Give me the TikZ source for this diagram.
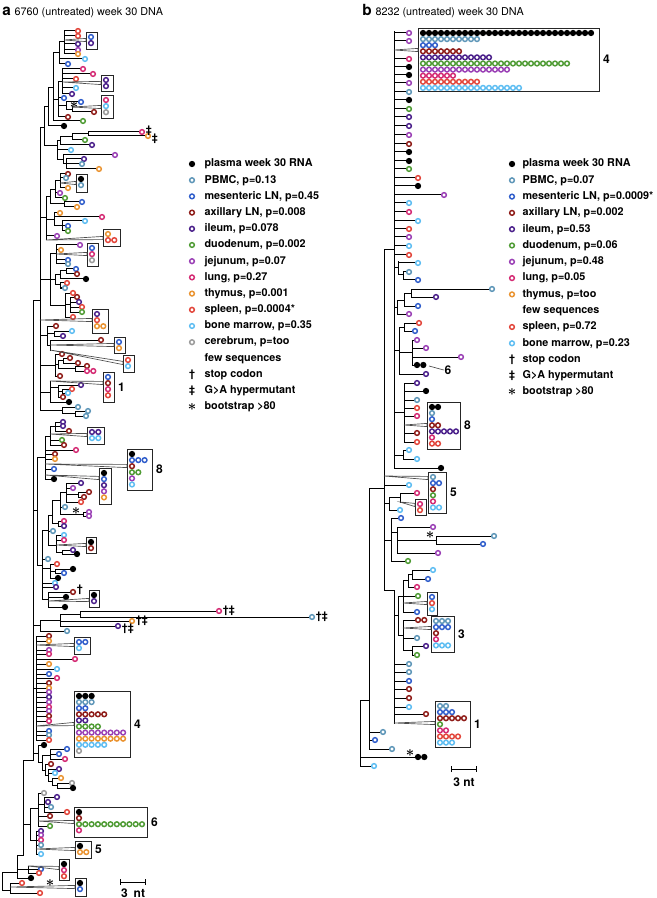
\documentclass[tikz,border=0pt]{standalone}
\usepackage{fontspec}
\setmainfont{TeX Gyre Heros}
\usetikzlibrary{fit,positioning,arrows.meta}

\definecolor{cpl}{HTML}{000000}
\definecolor{cpb}{HTML}{5E96B8}
\definecolor{cml}{HTML}{2F5DCB}
\definecolor{cax}{HTML}{8E1B17}
\definecolor{cil}{HTML}{4A1F8A}
\definecolor{cdu}{HTML}{4E9B33}
\definecolor{cje}{HTML}{9A3FB5}
\definecolor{clu}{HTML}{D42A73}
\definecolor{cth}{HTML}{EA9330}
\definecolor{csp}{HTML}{E2453A}
\definecolor{cbm}{HTML}{5DBDF2}
\definecolor{cce}{HTML}{9B9B9B}
\colorlet{fpl}{black}
\colorlet{fpb}{white}\colorlet{fml}{white}\colorlet{fax}{white}
\colorlet{fil}{white}\colorlet{fdu}{white}\colorlet{fje}{white}
\colorlet{flu}{white}\colorlet{fth}{white}\colorlet{fsp}{white}
\colorlet{fbm}{white}\colorlet{fce}{white}

% spacing of the circles inside a collapsed clade
\newcommand{\csx}{6.3}
\newcommand{\csy}{6.1}
% collapsed clade: name, x1, y1, x2, y2, rows, parent x, parent y, wedge y
\newcommand{\clade}[9]{%
  \node[clbox, fit={(#2,#3) (#4,#5)}] (#1) {};
  \coordinate (#1-w) at (#2,#9);
  \foreach \cl/\nn [count=\rw] in {#6} {
    \foreach \kk in {1,...,\nn} {
      \node[tip=\cl] (#1-\rw-\kk) at (#2+5+\csx*\kk-\csx, #3+5+\csy*\rw-\csy) {};
    }
  }
  \draw[wedge] (#7,#8) -- ([yshift=1.2pt]#1-w) -- ([yshift=-1.2pt]#1-w) -- cycle;
}

\begin{document}
\begin{tikzpicture}[x=0.75pt, y=-0.75pt,
    br/.style={line width=0.75pt, line cap=rect},
    tip/.style={circle, inner sep=0pt, minimum size=3.55pt, line width=1.1pt, draw=c#1, fill=f#1},
    clbox/.style={draw=black!85, line width=0.6pt, inner sep=0pt},
    wedge/.style={draw=black!70, line width=0.5pt},
    ttl/.style={inner sep=0pt, font=\fontsize{8.1}{9}\selectfont},
    ttlb/.style={inner sep=0pt, font=\bfseries\fontsize{11.5}{12}\selectfont},
    lg/.style={anchor=west, inner sep=1pt, font=\bfseries\fontsize{8.1}{9}\selectfont},
    mk/.style={inner sep=0.5pt, font=\bfseries\fontsize{8}{8}\selectfont},
    bstar/.style={inner sep=0pt, font=\boldmath\fontsize{11}{11}\selectfont},
    lab/.style={inner sep=0.5pt, font=\bfseries\fontsize{9}{10}\selectfont},
  ]
\useasboundingbox (0,0) rectangle (656,898);

% ---------------- panel a ----------------
\node[ttlb, anchor=base west] (ta) at (2,16) {a};
\node[ttl, anchor=base west] (tat) at ([xshift=2.5pt]ta.base east) {6760 (untreated) week 30 DNA};

% vertical branches
\foreach \x/\ya/\yb in {64/31/54, 59/42/64, 53/53/121, 62/69/94, 58/82/117, 66/102/110,
    72/107/112, 48/88/126, 88/132/136, 72/134/140, 60/137/145, 63/155/164, 66/159/169,
    57/141/160, 44/107/146, 60/174/188, 55/181/198, 50/190/204, 64/202/207, 62/221/231,
    54/213/226, 46/197/240, 56/245/264, 66/269/274, 60/271/279, 60/283/288, 55/275/285,
    70/297/312, 65/293/317, 50/254/305, 54/331/336, 47/326/345, 50/340/350, 63/358/363,
    75/366/371, 58/360/368, 55/354/376, 62/389/393, 58/385/397, 50/381/402, 75/411/416,
    62/407/413, 40/128/410, 55/422/431, 50/426/445, 45/436/479, 78/492/497, 66/483/502,
    83/512/516, 60/492/514, 58/521/526, 52/500/523, 62/550/554, 56/535/552, 48/515/545,
    55/569/573, 50/564/578, 48/592/607, 42/530/599, 37/457/565, 80/611/617, 60/614/626,
    40/620/631, 36/636/740, 50/749/759, 57/783/788, 52/778/785, 48/769/781, 45/764/775,
    42/755/770, 38/745/762, 44/797/812, 38/793/826, 36/831/854, 30/808/840, 28/866/873,
    17/855/878, 10/883/893, 2/872/890, 23/760/855, 33/300/760}
  \draw[br] (\x,\ya) -- (\x,\yb);

% horizontal inner branches
\foreach \xa/\xb/\y in {59/64/42, 53/59/53, 58/62/82, 53/58/100, 58/66/106, 66/72/110,
    48/53/88, 44/48/107, 72/88/134, 60/72/137, 57/60/141, 63/66/164, 57/63/160, 44/57/146,
    40/44/128, 55/60/181, 50/55/190, 50/64/204, 46/50/197, 54/62/226, 46/54/220, 40/46/218,
    50/56/254, 60/66/271, 55/60/275, 55/60/285, 50/55/280, 65/70/304, 50/65/305, 40/50/280,
    47/54/333, 47/50/345, 40/47/335, 58/63/360, 58/75/368, 55/58/364, 40/55/365,
    50/58/387, 58/62/391, 40/50/392, 62/75/413, 40/62/410, 50/55/426, 45/50/436, 37/45/457,
    66/78/494, 60/66/492, 60/83/514, 52/60/500, 52/58/523, 48/52/515, 56/62/552, 48/56/545,
    42/48/530, 50/55/571, 42/50/568, 42/48/599, 37/42/565, 33/37/510, 60/80/614, 40/60/620,
    33/40/625, 33/36/688, 42/50/755, 52/57/785, 48/52/781, 45/48/775, 42/45/770, 38/42/762,
    33/38/753, 38/44/804, 30/38/808, 30/36/840, 23/30/824, 17/28/869, 17/23/855, 2/17/872,
    2/10/890, 23/33/760, 33/40/300}
  \draw[br] (\xa,\y) -- (\xb,\y);

% sequences
\foreach \px/\x/\y/\cl [count=\ti] in {
    64/78/31/sp, 64/78/36/sp, 64/78/44/il, 64/78/50/je, 64/78/54/th,
    59/85/59/bm, 59/68/64/ml, 62/83/69/lu, 62/93/74/lu, 62/76/79/sp,
    62/76/88/bm, 62/72/94/il, 58/64/98/ml, 66/81/102/ml, 72/94/112/ax,
    58/68/117/ax, 53/83/121/du, 48/64/126/pl, 88/142/132/lu, 88/148/136/th,
    72/85/140/du, 60/92/145/il, 57/71/150/bm, 63/115/155/je, 66/84/159/il,
    66/82/164/pb, 66/99/169/th,
    60/68/174/ax, 60/66/178/pb, 60/68/188/th, 55/60/193/je, 55/65/198/du,
    64/82/202/ml, 64/77/207/th, 54/60/213/th, 54/102/217/lu, 62/85/221/bm,
    62/68/226/ml, 62/68/231/du, 46/57/236/je,
    56/80/245/je, 56/61/250/th, 56/68/260/ml, 56/68/264/pb, 66/76/269/ml,
    66/77/274/ax, 60/86/279/pl, 60/67/283/sp, 60/65/288/pb, 65/73/293/sp,
    70/77/297/ax, 70/79/302/il, 70/82/307/sp, 70/82/312/du, 65/73/317/sp,
    47/56/326/ax, 54/72/331/bm, 54/63/336/il, 50/101/340/ax,
    55/62/354/ax, 63/70/358/ax, 63/78/363/ax, 75/87/366/ax, 75/87/371/lu, 55/60/376/ax,
    58/81/385/il, 62/72/389/sp, 62/68/393/bm, 58/63/397/ax, 50/69/402/pl,
    62/78/407/pb, 75/88/411/pb, 75/86/416/pb,
    55/63/422/il, 55/63/426/il, 55/69/431/ax, 50/62/440/du, 50/64/445/ax,
    45/76/450/lu, 45/55/454/ax, 45/55/459/th, 45/54/469/ml, 45/54/479/pl,
    66/81/483/il, 66/73/488/je, 78/89/492/ax, 78/84/497/ax, 66/81/502/sp,
    60/65/507/pb, 83/89/512/je, 83/89/516/je, 58/64/521/lu, 58/64/526/il,
    48/53/531/pb, 56/64/535/bm, 56/64/540/lu, 62/73/550/il, 62/77/554/pl,
    42/48/559/pb, 50/57/564/sp, 55/73/569/pl, 55/64/573/ml, 50/58/578/pl,
    42/55/583/bm, 42/56/587/il, 48/73/592/ax, 48/66/597/pl, 48/65/607/pl,
    80/219/611/lu, 80/312/617/pb, 60/132/621/th, 60/118/626/il, 40/67/631/pb,
    36/49/636/ax, 36/49/641/th, 36/49/650/je, 36/49/654/lu, 36/75/659/lu,
    36/49/664/th, 36/57/669/bm, 36/49/674/ml, 36/57/678/lu, 36/49/683/ax,
    36/49/688/th, 36/49/692/je, 36/49/697/il, 36/49/702/je, 36/49/707/lu,
    36/49/711/je, 36/49/716/ax, 36/49/721/lu, 36/49/731/ml, 36/49/735/pb,
    36/49/740/sp,
    38/44/745/pl, 50/67/749/ml, 50/59/754/ml, 50/65/759/lu, 45/51/764/ax,
    48/59/769/il, 48/55/773/bm, 52/61/778/th, 57/72/783/ce, 57/73/788/pl,
    38/44/793/ce, 44/57/797/il, 44/48/802/il, 44/51/807/pb, 44/67/812/sp,
    38/50/816/ax, 38/50/826/du, 36/41/831/il, 36/41/835/je, 36/41/840/lu,
    36/41/845/pb, 36/41/854/bm,
    28/41/869/ml, 28/39/873/sp, 17/31/878/pl, 10/22/883/sp, 10/40/893/sp} {
  \node[tip=\cl] (a\ti) at (\x,\y) {};
  \draw[br] (\px,\y) -- (a\ti);
}
\node[tip=lu] (ax1) at (93.3,371) {};

% collapsed clades
\clade{ba1}{86}{32}{97}{49}{ml/1,il/1}{64}{40}{40}
\clade{ba2}{101}{75}{113}{91}{il/1,il/1}{62}{82}{83}
\clade{ba3}{101}{95}{113}{118}{lu/1,bm/1,ce/1}{72}{107}{107}
\clade{ba4}{76}{174}{87}{192}{pl/1,pb/1}{60}{183}{183}
\clade{ba5}{103}{229}{120}{246}{th/1,sp/2}{46}{240}{238}
\clade{ba6}{87}{243}{98}{266}{ml/1,lu/1,ce/1}{56}{254}{254}
\clade{ba7}{92}{309}{108}{333}{il/1,sp/1,th/2}{40}{320}{320}
\clade{ba8}{114}{337}{125}{353}{ml/1,th/1}{50}{345}{345}
\clade{ba9}{123}{355}{134}{372}{sp/1,bm/1}{50}{350}{363}
\clade{ba10}{103}{372}{114}{402}{ml/1,ax/1,lu/1,sp/1}{50}{381}{383}
\clade{ba11}{87}{427}{104}{444}{il/2,bm/2}{50}{434}{435}
\clade{ba12}{127}{449}{152}{490}{pl/1,ml/3,ax/1,du/2,je/1,bm/1}{45}{464}{466}
\clade{ba13}{99}{468}{111}{504}{pl/1,ml/1,il/1,je/1,th/1}{45}{475}{478}
\clade{ba14}{86}{537}{96}{553}{pl/1,ax/1}{56}{545}{545}
\clade{ba15}{89}{590}{99}{607}{pl/1,il/1}{48}{601}{600}
\clade{ba16}{74}{637}{90}{654}{ml/2,bm/1}{36}{645}{645}
\clade{ba17}{74}{691}{130}{757}{pl/3,pb/3,ml/2,ax/5,il/2,du/4,je/8,th/8,bm/5,ce/1}{36}{726}{724}
\clade{ba18}{74}{807}{147}{837}{pl/1,ax/1,du/11,lu/1}{38}{821}{822}
\clade{ba19}{75}{841}{91}{858}{pl/1,th/2}{36}{849}{849}
\clade{ba20}{59}{859}{69}{880}{pl/1,lu/1,sp/1}{28}{866}{868}
\clade{ba21}{75}{878}{86}{896}{pl/1,ml/1}{10}{887}{887}

\node[lab, right=2pt of ba10] (la1) {1};
\node[lab, right=2pt of ba12] (la8) {8};
\node[lab, right=2pt of ba17] (la4) {4};
\node[lab, right=2pt of ba18] (la6) {6};
\node[lab, right=2pt of ba19] (la5) {5};

% marks
\node[mk, anchor=west] (ma1) at (145,131) {‡};
\node[mk, anchor=west] (ma2) at (151,139) {‡};
\node[mk, anchor=west] (ma3) at (76,590) {†};
\node[mk, anchor=west] (ma4) at (222,611) {†‡};
\node[mk, anchor=west] (ma5) at (315,617) {†‡};
\node[mk, anchor=west] (ma6) at (135,621) {†‡};
\node[mk, anchor=west] (ma7) at (121,629) {†‡};
\node[bstar] (sa1) at (74,105) {$\ast$};
\node[bstar] (sa2) at (76,511) {$\ast$};
\node[bstar] (sa3) at (50,883) {$\ast$};

% scale
\coordinate (sba1) at (120,882);
\coordinate (sba2) at (146,882);
\draw[br, {Bar[width=4.5pt]}-{Bar[width=4.5pt]}] (sba1) -- (sba2);
\node[lab] (sbat) at (133,893) {3\,\,\,nt};

% legend
\foreach \k/\cl/\t in {0/pl/plasma week 30 RNA, 1/pb/{PBMC, p=0.13}, 2/ml/{mesenteric LN, p=0.45},
    3/ax/{axillary LN, p=0.008}, 4/il/{ileum, p=0.078}, 5/du/{duodenum, p=0.002},
    6/je/{jejunum, p=0.07}, 7/lu/{lung, p=0.27}, 8/th/{thymus, p=0.001},
    9/sp/{spleen, p=0.0004*}, 10/bm/{bone marrow, p=0.35}, 11/ce/{cerebrum, p=too}} {
  \node[tip=\cl] (lga\k) at (192,164+16.2*\k) {};
  \node[lg] (lgat\k) at (203,164+16.2*\k) {\t};
}
\node[lg] (lgat12) at (203,164+16.2*12) {few sequences};
\node[mk] (lga13) at (192,164+16.2*13) {†};
\node[lg] (lgat13) at (203,164+16.2*13) {stop codon};
\node[mk] (lga14) at (192,164+16.2*14) {‡};
\node[lg] (lgat14) at (203,164+16.2*14) {G>A hypermutant};
\node[bstar] (lga15) at (192,164+16.2*15) {$\ast$};
\node[lg] (lgat15) at (203,164+16.2*15) {bootstrap >80};

% ---------------- panel b ----------------
\node[ttlb, anchor=base west] (tb) at (362,16) {b};
\node[ttl, anchor=base west] (tbt) at ([xshift=2.5pt]tb.base east) {8232 (untreated) week 30 DNA};

\foreach \x/\ya/\yb in {394/32/468, 398/262/275, 403/272/280, 411/289/297, 404/293/306,
    397/300/314, 404/323/331, 412/340/365, 399/327/374, 404/383/442, 403/450/459,
    384/250/590, 400/493/502, 389/497/510, 436/536/544, 397/527/553, 391/518/561,
    412/570/579, 408/574/587, 403/580/612, 403/620/650, 412/646/655, 398/596/635,
    394/590/723, 369/488/749, 360/700/766}
  \draw[br] (\x,\ya) -- (\x,\yb);

\foreach \xa/\xb/\y in {398/403/275, 394/398/268, 404/411/293, 397/404/300, 394/397/307,
    399/404/327, 399/412/352, 394/399/350, 394/404/412, 394/403/455, 384/394/250,
    389/400/497, 384/389/503, 397/436/540, 391/397/532, 384/391/540, 408/412/574,
    403/408/580, 398/403/596, 403/412/650, 398/403/635, 394/398/615, 384/394/590,
    369/384/488, 360/369/700}
  \draw[br] (\xa,\y) -- (\xb,\y);

\foreach \px/\x/\y/\cl [count=\ti] in {
    394/409/33/je, 394/409/41/je, 394/409/59/lu, 394/409/67/pl, 394/409/75/pl,
    394/409/83/je, 394/409/92/pb, 394/409/100/pl, 394/409/109/du, 394/409/117/il,
    394/409/126/il, 394/409/135/je, 394/409/144/ax, 394/409/152/pl, 394/409/161/pl,
    394/409/169/du, 394/418/178/sp, 394/418/186/pl, 394/444/195/je, 394/409/203/bm,
    394/409/212/lu, 394/418/221/bm, 394/409/229/sp, 394/409/237/je, 394/409/246/bm,
    394/409/255/sp, 398/418/263/bm, 403/409/272/pb, 403/418/280/ml, 411/492/289/pb,
    411/436/297/il, 404/418/306/ml, 397/409/314/je, 404/419/323/sp, 404/415/331/ml,
    412/417/340/je, 412/426/348/je, 412/461/357/je, 412/417/365/pl, 399/426/374/il,
    404/417/383/il, 404/426/391/pl, 404/417/400/pb, 404/417/408/sp, 404/417/416/lu,
    404/417/433/ax, 404/417/442/sp, 403/409/450/bm, 403/417/459/bm, 394/441/468/pl,
    384/409/485/bm, 400/417/493/lu, 389/400/510/bm, 391/401/518/ml, 397/433/527/je,
    436/494/536/pb, 436/483/544/ml, 397/438/553/je, 391/408/561/du, 412/433/570/bm,
    412/428/579/ml, 408/417/587/lu, 403/418/596/du, 403/417/612/ml, 403/418/620/ax,
    403/417/638/pb, 412/426/646/il, 412/417/655/du, 394/409/664/pb, 394/409/672/pb,
    394/409/681/ml, 394/409/689/ax, 394/409/698/ax, 394/409/707/bm, 394/426/714/ax,
    369/383/732/pb, 369/375/740/ml, 369/392/749/pb, 360/418/757/pl, 360/374/766/bm} {
  \node[tip=\cl] (b\ti) at (\x,\y) {};
  \draw[br] (\px,\y) -- (b\ti);
}
\node[tip=pl] (bx1) at (423.3,365) {};
\node[tip=ax] (bx2) at (424.3,620) {};
\node[tip=pl] (bx3) at (424.3,757) {};

\renewcommand{\csx}{6.0}
\clade{bb1}{418}{28}{599}{91}{pl/29,pb/10,ml/3,ax/7,il/12,du/25,je/15,lu/6,sp/10,bm/17}{394}{50}{50}
\clade{bb2}{427}{402}{460}{449}{pl/2,pb/1,ml/1,ax/2,il/5,lu/1,sp/2}{404}{425}{425}
\clade{bb3}{428}{472}{446}{513}{pb/1,ml/2,ax/1,du/1,lu/1,bm/2}{384}{476}{478}
\clade{bb4}{415}{499}{426}{515}{lu/1,sp/1}{400}{502}{505}
\clade{bb5}{427}{592}{437}{615}{ml/1,sp/1,bm/1}{403}{603}{603}
\clade{bb6}{431}{616}{454}{652}{pb/3,ml/3,ax/1,lu/1,bm/3}{403}{628}{628}
\clade{bb7}{435}{701}{470}{747}{pb/2,ml/3,ax/5,du/1,lu/2,sp/4,bm/3}{394}{723}{723}

\node[lab, right=2pt of bb1] (lb4) {4};
\node[lab, right=2pt of bb2] (lb8) {8};
\node[lab, right=2pt of bb3] (lb5) {5};
\node[lab, right=2pt of bb6] (lb3) {3};
\node[lab, right=2pt of bb7] (lb1) {1};
\coordinate (b6a) at (429,366);
\node[lab] (lb6) at (448,370) {6};
\draw[wedge] (b6a) -- (lb6.west);

\node[bstar] (sb1) at (430,535) {$\ast$};
\node[bstar] (sb2) at (410,753) {$\ast$};

\coordinate (sbb1) at (451,769);
\coordinate (sbb2) at (477,769);
\draw[br, {Bar[width=4.5pt]}-{Bar[width=4.5pt]}] (sbb1) -- (sbb2);
\node[lab] (sbbt) at (464,782) {3 nt};

\foreach \k/\cl/\t in {0/pl/plasma week 30 RNA, 1/pb/{PBMC, p=0.07}, 2/ml/{mesenteric LN, p=0.0009*},
    3/ax/{axillary LN, p=0.002}, 4/il/{ileum, p=0.53}, 5/du/{duodenum, p=0.06},
    6/je/{jejunum, p=0.48}, 7/lu/{lung, p=0.05}, 8/th/{thymus, p=too},
    10/sp/{spleen, p=0.72}, 11/bm/{bone marrow, p=0.23}} {
  \node[tip=\cl] (lgb\k) at (512,164+16.3*\k) {};
  \node[lg] (lgbt\k) at (521,164+16.3*\k) {\t};
}
\node[lg] (lgbt9) at (521,164+16.3*9) {few sequences};
\node[mk] (lgb12) at (512,164+16.3*12) {†};
\node[lg] (lgbt12) at (521,164+16.3*12) {stop codon};
\node[mk] (lgb13) at (512,164+16.3*13) {‡};
\node[lg] (lgbt13) at (521,164+16.3*13) {G>A hypermutant};
\node[bstar] (lgb14) at (512,164+16.3*14) {$\ast$};
\node[lg] (lgbt14) at (521,164+16.3*14) {bootstrap >80};

\end{tikzpicture}
\end{document}
